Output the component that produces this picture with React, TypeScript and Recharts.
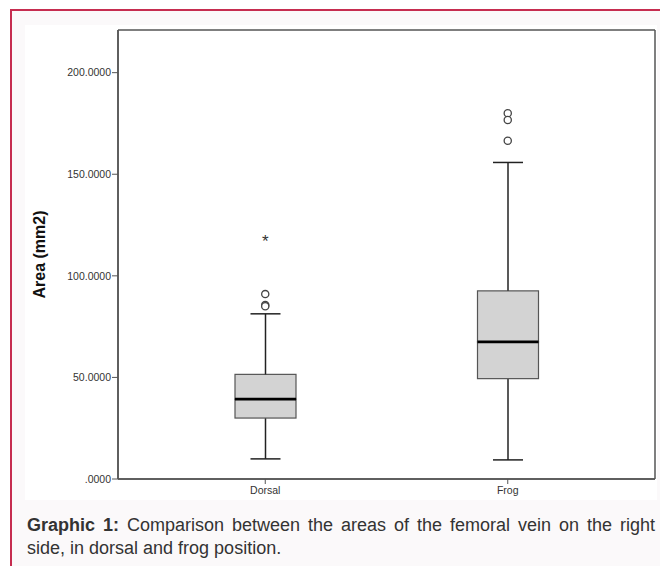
import React from "react"
import {
  ComposedChart,
  Bar,
  Line,
  XAxis,
  YAxis,
  CartesianGrid
} from "recharts"

const categories = ["Dorsal", "Frog"]
const mins = [9.9, 9.4]
const q1s = [30.0, 49.4]
const medians = [39.3, 67.5]
const q3s = [51.5, 92.6]
const maxs = [81.3, 155.8]
const outliersA = [91.0, 180.0]
const outliersB = [85.6, 176.7]
const outliersC = [85.0, 166.5]
const extremes: (number | null)[] = [117.8, null]
const yTicks = [0, 50, 100, 150, 200]

const data = categories.map((name, i) => ({
  name,
  base: mins[i],
  lowWhisker: q1s[i] - mins[i],
  lowBox: medians[i] - q1s[i],
  highBox: q3s[i] - medians[i],
  highWhisker: maxs[i] - q3s[i],
  oa: outliersA[i],
  ob: outliersB[i],
  oc: outliersC[i],
  ext: extremes[i]
}))

const FONT = "Arial, 'Liberation Sans', Helvetica, sans-serif"
const LINE = "#222"
const FRAME = "#555"
const CAP = 15

function LowWhisker(props: any) {
  const { x, y, width, height } = props
  const cx = x + width / 2
  return (
    <g>
      <line x1={cx} x2={cx} y1={y} y2={y + height} stroke={LINE} strokeWidth={1.5} />
      <line x1={cx - CAP} x2={cx + CAP} y1={y + height} y2={y + height} stroke={LINE} strokeWidth={1.5} />
    </g>
  )
}

function HighWhisker(props: any) {
  const { x, y, width, height } = props
  const cx = x + width / 2
  return (
    <g>
      <line x1={cx} x2={cx} y1={y} y2={y + height} stroke={LINE} strokeWidth={1.5} />
      <line x1={cx - CAP} x2={cx + CAP} y1={y} y2={y} stroke={LINE} strokeWidth={1.5} />
    </g>
  )
}

function LowBox(props: any) {
  const { x, y, width, height } = props
  return <rect x={x} y={y} width={width} height={height} fill="#d3d3d3" stroke="#555" strokeWidth={1.2} />
}

function HighBox(props: any) {
  const { x, y, width, height } = props
  return (
    <g>
      <rect x={x} y={y} width={width} height={height} fill="#d3d3d3" stroke="#555" strokeWidth={1.2} />
      <line x1={x} x2={x + width} y1={y + height} y2={y + height} stroke="#000" strokeWidth={2.6} />
    </g>
  )
}

function OutlierDot(props: any) {
  const { cx, cy, index } = props
  if (typeof cy !== "number" || isNaN(cy)) return <g key={index} />
  return <circle key={index} cx={cx} cy={cy} r={3.6} fill="#fff" stroke="#444" strokeWidth={1.3} />
}

function ExtremeDot(props: any) {
  const { cx, cy, index } = props
  if (typeof cy !== "number" || isNaN(cy)) return <g key={index} />
  return (
    <text key={index} x={cx} y={cy + 7} textAnchor="middle" fontSize={17} fontFamily={FONT} fill="#333">
      *
    </text>
  )
}

const fmt = (v: number) => (v === 0 ? ".0000" : v.toFixed(4))

const captionStyle = {
  fontFamily: FONT,
  fontSize: 18,
  lineHeight: "23px",
  color: "#333",
  whiteSpace: "nowrap" as const
}

export default function App() {
  return (
    <div style={{ position: "fixed", left: 0, top: 0, width: 660, height: 566, overflow: "hidden", background: "#fff" }}>
      <style>{`html,body{margin:0;overflow:hidden}`}</style>
      <div
        style={{
          position: "absolute",
          left: 10,
          top: 9,
          width: 700,
          height: 600,
          borderTop: "2px solid #c62d50",
          borderLeft: "2px solid #c62d50",
          background: "#fbf9fa"
        }}
      />
      <div style={{ position: "absolute", left: 25, top: 25, width: 632, height: 475, background: "#fff" }}>
        <ComposedChart
          width={632}
          height={475}
          data={data}
          margin={{ top: 5, right: 2, bottom: 0, left: 0 }}
          barSize={61}
        >
          <CartesianGrid
            stroke={FRAME}
            strokeWidth={1.5}
            horizontalCoordinatesGenerator={(p: any) => [p.offset.top, p.offset.top + p.offset.height]}
            verticalCoordinatesGenerator={(p: any) => [p.offset.left, p.offset.left + p.offset.width]}
          />
          <XAxis
            dataKey="name"
            padding={{ left: 26, right: 26 }}
            axisLine={{ stroke: FRAME, strokeWidth: 1.5 }}
            tickLine={{ stroke: FRAME }}
            tickSize={5}
            tickMargin={3}
            height={21}
            tick={{ fontSize: 10.5, fill: "#333", fontFamily: FONT }}
          />
          <YAxis
            domain={[0, 221]}
            ticks={yTicks}
            tickFormatter={fmt}
            width={93}
            axisLine={{ stroke: FRAME, strokeWidth: 1.5 }}
            tickLine={{ stroke: FRAME }}
            tickSize={6}
            tickMargin={1}
            tick={{ fontSize: 10.5, fill: "#333", fontFamily: FONT }}
            label={{
              value: "Area (mm2)",
              angle: -90,
              position: "insideLeft",
              offset: 14,
              style: { fontSize: 16, fontWeight: "bold", fill: "#111", fontFamily: FONT, textAnchor: "middle" }
            }}
          />
          <Bar dataKey="base" stackId="b" fill="transparent" isAnimationActive={false} shape={() => <g />} />
          <Bar dataKey="lowWhisker" stackId="b" isAnimationActive={false} shape={LowWhisker} />
          <Bar dataKey="lowBox" stackId="b" isAnimationActive={false} shape={LowBox} />
          <Bar dataKey="highBox" stackId="b" isAnimationActive={false} shape={HighBox} />
          <Bar dataKey="highWhisker" stackId="b" isAnimationActive={false} shape={HighWhisker} />
          <Line dataKey="oa" stroke="none" dot={OutlierDot} activeDot={false} isAnimationActive={false} />
          <Line dataKey="ob" stroke="none" dot={OutlierDot} activeDot={false} isAnimationActive={false} />
          <Line dataKey="oc" stroke="none" dot={OutlierDot} activeDot={false} isAnimationActive={false} />
          <Line dataKey="ext" stroke="none" dot={ExtremeDot} activeDot={false} isAnimationActive={false} />
        </ComposedChart>
      </div>
      <div
        style={{
          ...captionStyle,
          position: "absolute",
          left: 27,
          top: 514,
          width: 628,
          whiteSpace: "normal",
          textAlign: "justify",
          textAlignLast: "justify"
        }}
      >
        <b>Graphic 1:</b> Comparison between the areas of the femoral vein on the right
      </div>
      <div style={{ ...captionStyle, position: "absolute", left: 27, top: 537 }}>
        side, in dorsal and frog position.
      </div>
    </div>
  )
}
